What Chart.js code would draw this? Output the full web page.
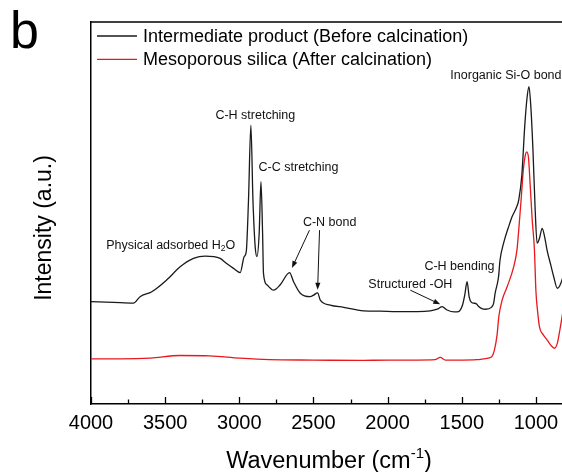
<!DOCTYPE html>
<html>
<head>
<meta charset="utf-8">
<script src="https://cdn.jsdelivr.net/npm/chart.js@4.4.1/dist/chart.umd.min.js"></script>
<style>
  html, body { margin: 0; padding: 0; background: #fff; overflow: hidden; }
  #wrap { width: 600px; height: 472px; }
</style>
</head>
<body>
<div id="wrap"><canvas id="ftir" width="600" height="472"></canvas></div>
<script>
// FTIR spectra, wavenumber (cm-1) vs intensity (a.u., 0-100 scale of the plot box)
const seriesNames = ['Intermediate product (Before calcination)', 'Mesoporous silica (After calcination)'];
const seriesColors = ['#1a1a1a', '#e8181c'];

const beforeWn = [4000, 3850, 3714, 3669, 3590, 3489, 3399, 3309, 3230, 3129,
  3090, 3039, 2994, 2967, 2953, 2938, 2922, 2908, 2893, 2881,
  2866, 2854, 2843, 2837, 2814, 2769, 2724, 2661, 2634, 2589,
  2522, 2499, 2472, 2454, 2387, 2297, 2162, 2050, 1937, 1800,
  1712, 1660, 1633, 1599, 1550, 1521, 1495, 1480, 1464, 1450,
  1435, 1420, 1400, 1386, 1360, 1340, 1300, 1285, 1275, 1252,
  1242, 1218, 1180, 1161, 1133, 1116, 1095, 1075, 1060, 1047,
  1035, 1020, 1005, 992, 975, 958, 940, 925, 900, 880,
  856, 840, 820, 800];
const beforeVal = [26.8, 26.6, 26.4, 28.1, 29.4, 32.5, 35.9, 38.1, 38.7, 38.1,
  36.9, 35.5, 34.4, 38.6, 39.9, 53.4, 73.0, 53.4, 41.2, 38.6,
  44.7, 58.2, 44.7, 34.2, 31.2, 29.8, 31.2, 34.4, 32.0, 29.0,
  28.1, 28.5, 29.1, 27.2, 25.9, 25.3, 24.4, 24.3, 24.2, 24.2,
  24.4, 24.9, 25.5, 24.6, 24.1, 24.2, 25.9, 28.5, 32.0, 28.0,
  26.6, 26.4, 26.2, 25.5, 24.9, 24.8, 25.3, 26.4, 29.0, 33.3,
  37.7, 42.1, 46.9, 49.0, 51.3, 53.4, 59.9, 73.0, 80.1, 83.1,
  78.3, 66.5, 50.8, 42.1, 43.5, 46.0, 43.5, 40.3, 36.4, 33.3,
  30.3, 30.9, 33.0, 36.4];

const afterWn = [4000, 3800, 3600, 3400, 3200, 3000, 2800, 2500, 2200, 2000,
  1800, 1680, 1645, 1610, 1500, 1400, 1340, 1300, 1280, 1262,
  1250, 1228, 1194, 1150, 1128, 1116, 1100, 1085, 1070, 1062,
  1050, 1038, 1025, 1010, 1000, 988, 976, 950, 925, 900,
  875, 855, 838, 820, 800];
const afterVal = [11.8, 11.8, 12.0, 12.7, 12.6, 12.0, 11.6, 11.5, 11.4, 11.5,
  11.5, 11.6, 12.2, 11.5, 11.5, 11.6, 11.9, 12.3, 14.1, 18.1,
  22.9, 27.2, 30.7, 35.9, 40.3, 45.5, 53.4, 61.3, 65.4, 66.0,
  64.4, 56.8, 48.2, 40.3, 29.5, 24.0, 20.2, 18.1, 16.8, 15.4,
  14.6, 16.0, 19.5, 23.7, 28.5];

// peak annotations: text, wavenumber, intensity, alignment
const annoText = ['C-H stretching', 'C-C stretching', 'C-N bond', 'Physical adsorbed H|2|O', 'C-H bending', 'Structured -OH', 'Inorganic Si-O bond'];
const annoWn   = [2892, 2870, 2571, 3898, 1752, 2130, 1577];
const annoVal  = [75.4, 61.9, 47.4, 41.6, 35.9, 31.2, 86.0];
const annoAlign = ['center', 'left', 'left', 'left', 'left', 'left', 'left'];

// arrows: [fromWn, fromVal, toWn, toVal]
const arrows = [
  [2527, 45.5, 2645, 35.6],
  [2459, 45.5, 2472, 29.9],
  [1847, 29.8, 1645, 26.1]
];

const FONT = 'Arial, "Liberation Sans", sans-serif';

function toPoints(wn, val) {
  return wn.map((w, i) => ({ x: w, y: val[i] }));
}

function drawArrow(ctx, x1, y1, x2, y2) {
  const ang = Math.atan2(y2 - y1, x2 - x1);
  const hl = 7, hw = 2.6;
  ctx.beginPath();
  ctx.moveTo(x1, y1);
  ctx.lineTo(x2 - Math.cos(ang) * hl * 0.8, y2 - Math.sin(ang) * hl * 0.8);
  ctx.stroke();
  ctx.beginPath();
  ctx.moveTo(x2, y2);
  ctx.lineTo(x2 - Math.cos(ang) * hl + Math.sin(ang) * hw, y2 - Math.sin(ang) * hl - Math.cos(ang) * hw);
  ctx.lineTo(x2 - Math.cos(ang) * hl - Math.sin(ang) * hw, y2 - Math.sin(ang) * hl + Math.cos(ang) * hw);
  ctx.closePath();
  ctx.fill();
}

const decor = {
  id: 'decor',
  afterDraw(chart) {
    const ctx = chart.ctx, a = chart.chartArea;
    const xs = chart.scales.x, ys = chart.scales.y;
    ctx.save();
    ctx.strokeStyle = '#000';
    ctx.fillStyle = '#000';

    // top frame line
    ctx.lineWidth = 1.5;
    ctx.beginPath();
    ctx.moveTo(a.left - 0.75, a.top);
    ctx.lineTo(chart.width, a.top);
    ctx.stroke();

    // inward ticks on the x axis
    ctx.lineWidth = 1.3;
    ctx.beginPath();
    xs.ticks.forEach(t => {
      const px = Math.round(xs.getPixelForValue(t.value)) + 0.5;
      const len = t.value % 500 === 0 ? 7 : 4.5;
      ctx.moveTo(px, a.bottom);
      ctx.lineTo(px, a.bottom - len);
    });
    ctx.stroke();

    // legend
    ctx.font = '18px ' + FONT;
    ctx.textBaseline = 'middle';
    ctx.textAlign = 'left';
    chart.data.datasets.forEach((ds, i) => {
      const y = 36 + i * 23.3;
      ctx.strokeStyle = ds.borderColor;
      ctx.lineWidth = 1.3;
      ctx.beginPath();
      ctx.moveTo(97, y);
      ctx.lineTo(137, y);
      ctx.stroke();
      ctx.fillStyle = '#000';
      ctx.fillText(ds.label, 143, y + 1);
    });

    // peak annotations
    ctx.fillStyle = '#111';
    ctx.strokeStyle = '#111';
    annoText.forEach((txt, i) => {
      const px = xs.getPixelForValue(annoWn[i]);
      const py = ys.getPixelForValue(annoVal[i]);
      const parts = txt.split('|');
      ctx.font = '12.5px ' + FONT;
      if (parts.length === 1) {
        ctx.textAlign = annoAlign[i];
        ctx.fillText(txt, px, py);
        return;
      }
      // subscript text
      ctx.textAlign = 'left';
      let cx = px;
      parts.forEach((p, k) => {
        const sub = k % 2 === 1;
        ctx.font = (sub ? '8.5px ' : '12.5px ') + FONT;
        ctx.fillText(p, cx, py + (sub ? 4 : 0));
        cx += ctx.measureText(p).width;
      });
    });

    ctx.lineWidth = 1;
    arrows.forEach(ar => {
      drawArrow(ctx, xs.getPixelForValue(ar[0]), ys.getPixelForValue(ar[1]),
        xs.getPixelForValue(ar[2]), ys.getPixelForValue(ar[3]));
    });

    // x title with superscript
    ctx.fillStyle = '#000';
    ctx.textAlign = 'left';
    ctx.textBaseline = 'alphabetic';
    const t1 = 'Wavenumber (cm', t2 = '-1', t3 = ')';
    ctx.font = '23.5px ' + FONT;
    const w1 = ctx.measureText(t1).width, w3 = ctx.measureText(t3).width;
    ctx.font = '15px ' + FONT;
    const w2 = ctx.measureText(t2).width;
    let x0 = 329 - (w1 + w2 + w3) / 2;
    const base = 468;
    ctx.font = '23.5px ' + FONT;
    ctx.fillText(t1, x0, base);
    ctx.font = '15px ' + FONT;
    ctx.fillText(t2, x0 + w1, base - 10);
    ctx.font = '23.5px ' + FONT;
    ctx.fillText(t3, x0 + w1 + w2, base);

    // y title
    ctx.save();
    ctx.translate(45, 228);
    ctx.rotate(-Math.PI / 2);
    ctx.textAlign = 'center';
    ctx.textBaseline = 'middle';
    ctx.font = '23px ' + FONT;
    ctx.fillText('Intensity (a.u.)', 0, 0);
    ctx.restore();

    // panel letter
    ctx.font = '52px ' + FONT;
    ctx.textAlign = 'left';
    ctx.textBaseline = 'alphabetic';
    ctx.fillText('b', 10, 48);

    ctx.restore();
  }
};

new Chart(document.getElementById('ftir'), {
  type: 'line',
  data: {
    datasets: [
      { label: seriesNames[0], data: toPoints(beforeWn, beforeVal), borderColor: seriesColors[0], borderWidth: 1.3, pointRadius: 0, cubicInterpolationMode: 'monotone', fill: false },
      { label: seriesNames[1], data: toPoints(afterWn, afterVal), borderColor: seriesColors[1], borderWidth: 1.3, pointRadius: 0, cubicInterpolationMode: 'monotone', fill: false }
    ]
  },
  options: {
    responsive: false,
    animation: false,
    devicePixelRatio: 1,
    layout: { padding: { left: 0, right: 27, top: 22, bottom: 0 } },
    plugins: { legend: { display: false }, tooltip: { enabled: false }, title: { display: false } },
    scales: {
      x: {
        type: 'linear', min: 750, max: 4000, reverse: true,
        grid: { display: false, drawTicks: false },
        border: { display: true, color: '#000', width: 1.5 },
        ticks: {
          stepSize: 250, autoSkip: false, maxRotation: 0, padding: 7, color: '#000',
          font: { size: 20, family: FONT },
          callback: v => (v % 500 === 0 ? String(v) : '')
        },
        afterFit: s => { s.height = 68; }
      },
      y: {
        min: 0, max: 100,
        grid: { display: false, drawTicks: false },
        border: { display: true, color: '#000', width: 1.5 },
        ticks: { display: false },
        afterFit: s => { s.width = 91; }
      }
    }
  },
  plugins: [decor]
});
</script>
</body>
</html>
